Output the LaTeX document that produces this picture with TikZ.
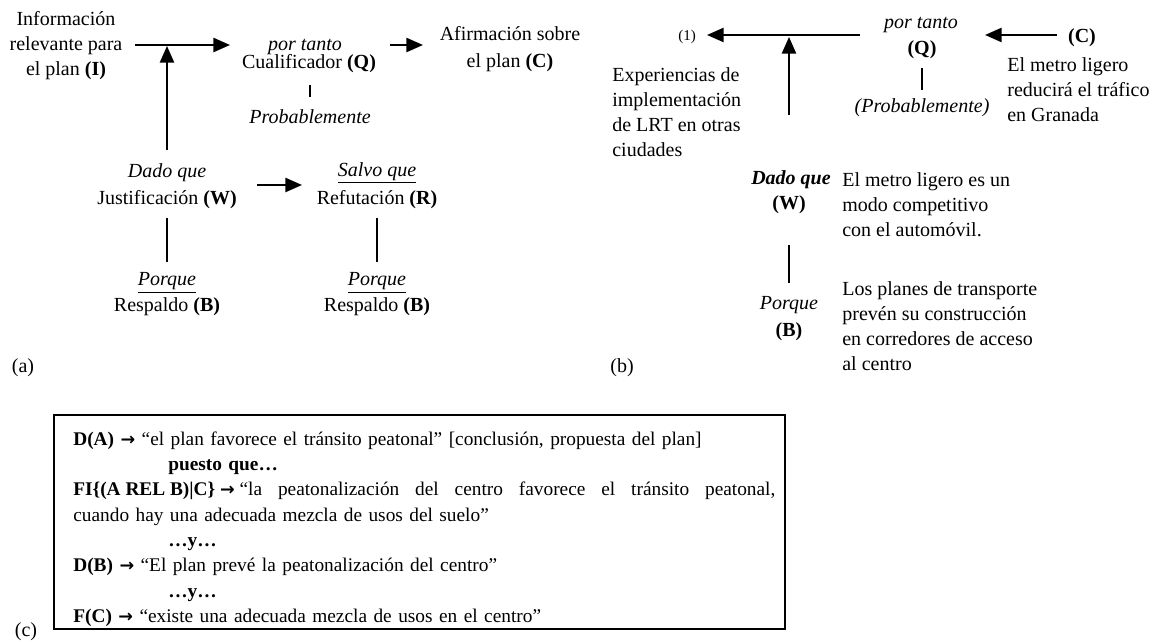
\documentclass[tikz,border=0pt]{standalone}
\usepackage{fontspec}
\setmainfont{Liberation Serif}
\newfontfamily\arrowfont{DejaVu Sans}
\usetikzlibrary{arrows.meta,calc}
% implication arrow used in the lines of panel (c)
\newcommand\impl{{\arrowfont\bfseries\fontsize{10.5}{10.5}\selectfont →}}
% fixed word space that does not stretch on the justified line
\newcommand\fsp{\hspace{0.25em}}

\begin{document}
\begin{tikzpicture}[x=0.6pt,y=-0.6pt,
  txt/.style={inner sep=0pt,font=\fontsize{12}{15}\selectfont,align=center},
  ltxt/.style={inner sep=0pt,font=\fontsize{12}{15}\selectfont,align=left,anchor=west},
  arr/.style={line width=1.2pt,-{Triangle[length=10pt,width=8.5pt]}},
  link/.style={line width=1.2pt},
  frame/.style={draw,line width=1.2pt,inner sep=0pt}]
\useasboundingbox (0,0) rectangle (1153,642);

% ---------------- (a) general scheme ----------------
\node[txt] (I) at (66,46) {Información\\relevante para\\el plan \textbf{(I)}};
\node[txt] (pt) at (305,47) {\textit{por tanto}};
\node[txt] (Q) at (309,64) {Cualificador \textbf{(Q)}};
\node[txt] (prob) at (310,117) {\textit{Probablemente}};
\node[txt,font=\fontsize{12}{16}\selectfont] (C) at (510,49) {Afirmación sobre\\el plan \textbf{(C)}};
\node[txt] (dq) at (167,173) {\textit{Dado que}};
\node[txt] (W) at (167,200) {Justificación \textbf{(W)}};
\node[txt] (sq) at (377,173) {\underline{\textit{Salvo que}}};
\node[txt] (R) at (377,200) {Refutación \textbf{(R)}};
\node[txt] (pq1) at (167,283) {\underline{\textit{Porque}}};
\node[txt] (B1) at (167,307) {Respaldo \textbf{(B)}};
\node[txt] (pq2) at (377,283) {\underline{\textit{Porque}}};
\node[txt] (B2) at (377,307) {Respaldo \textbf{(B)}};
\node[txt] (la) at (23,368) {(a)};

\draw[arr] ($(I)+(69,-1)$) -- ($(Q)+(-79,-19)$);
\draw[arr] ($(Q)+(81,-19)$) -- ($(C)+(-87,-4)$);
\draw[link] ($(Q)+(1,21)$) -- ($(prob)+(0,-20)$);
\draw[arr] ($(dq)+(0,-23)$) -- (dq |- I);
\draw[arr] ($(W)+(90,-15)$) -- ($(R)+(-75,-15)$);
\draw[link] ($(W)+(0,18)$) -- ($(pq1)+(0,-21)$);
\draw[link] ($(R)+(0,18)$) -- ($(pq2)+(0,-21)$);

% ---------------- (b) light rail example ----------------
\node[txt,font=\fontsize{9}{10}\selectfont] (i) at (687,37) {(1)};
\node[ltxt] (exp) at (612,112) {Experiencias de\\implementación\\de LRT en otras\\ciudades};
\node[txt] (pt2) at (921,25) {\textit{por tanto}};
\node[txt] (Q2) at (922,50) {\textbf{(Q)}};
\node[txt] (prob2) at (922,108) {\textit{(Probablemente)}};
\node[txt] (C2) at (1082,38) {\textbf{(C)}};
\node[ltxt] (claim) at (1007,90) {El metro ligero\\reducirá el tráfico\\en Granada};
\node[txt] (dq2) at (791,180) {\textbf{\textit{Dado que}}};
\node[txt] (W2) at (789,205) {\textbf{(W)}};
\node[ltxt] (warrant) at (842,205) {El metro ligero es un\\modo competitivo\\con el automóvil.};
\node[txt] (pq3) at (789,305) {\textit{Porque}};
\node[txt] (B3) at (789,332) {\textbf{(B)}};
\node[ltxt] (backing) at (842,326) {Los planes de transporte\\prevén su construcción\\en corredores de acceso\\al centro};
\node[txt] (lb) at (622,368) {(b)};

\draw[arr] ($(pt2)+(-61,10)$) -- ($(i)+(20,-2)$);
\draw[arr] ($(W2)+(0,-90)$) -- (W2 |- i);
\draw[link] ($(Q2)+(0,18)$) -- ($(prob2)+(0,-18)$);
\draw[arr] ($(C2)+(-25,-3)$) -- ($(pt2)+(64,10)$);
\draw[link] ($(W2)+(0,40)$) -- ($(pq3)+(0,-22)$);

% ---------------- (c) logical chain ----------------
\node[frame,minimum width=438.6pt,minimum height=128.4pt] (box) at (419.5,522) {};
\node[inner sep=0pt,anchor=north west,text width=421.2pt,align=left,
      font=\fontsize{11.6}{15.2}\selectfont] (chain) at (73,427) {%
\strut\textbf{D(A)} \impl{} “el plan favorece el tránsito peatonal” [conclusión, propuesta del plan]\\
\hspace*{57pt}\textbf{puesto que…}\\
\leavevmode\hbox to 421.2pt{\spaceskip=0.25em plus 1fil\relax\textbf{FI\{(A\fsp REL\fsp B)|C\}}\fsp\impl\fsp“la peatonalización del centro favorece el tránsito peatonal,}\\
cuando hay una adecuada mezcla de usos del suelo”\\
\hspace*{57pt}\textbf{…y…}\\
\textbf{D(B)} \impl{} “El plan prevé la peatonalización del centro”\\
\hspace*{57pt}\textbf{…y…}\\
\textbf{F(C)} \impl{} “existe una adecuada mezcla de usos en el centro”};
\node[txt] (lc) at (26,632) {(c)};
\end{tikzpicture}
\end{document}
